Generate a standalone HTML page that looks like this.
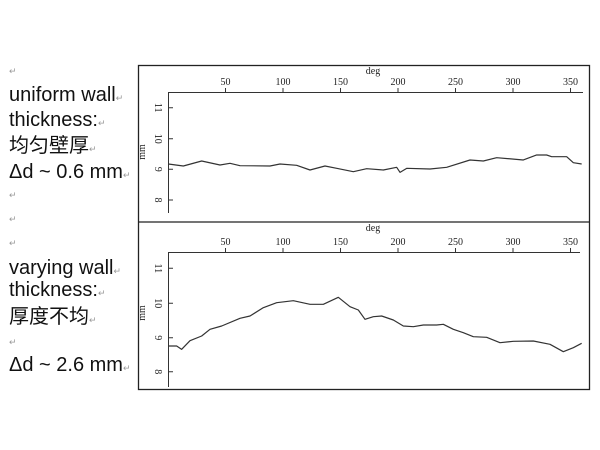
<!DOCTYPE html>
<html><head><meta charset="utf-8"><style>
body{margin:0;width:600px;height:450px;background:#fff;overflow:hidden;position:relative;font-family:"Liberation Sans","Noto Sans CJK SC",sans-serif}
.t{position:absolute;left:9px;font-size:20px;color:#111;line-height:22px;white-space:nowrap}
.r{position:absolute;left:9px;font-size:9px;color:#999}
.ra{font-size:9px;color:#999}
</style></head><body>
<div class="r" style="top:66px">↵</div>
<div class="t" style="top:84px">uniform wall<span class="ra">↵</span></div>
<div class="t" style="top:109px">thickness:<span class="ra">↵</span></div>
<div class="t" style="top:135px">均匀壁厚<span class="ra">↵</span></div>
<div class="t" style="top:161px">Δd ~ 0.6 mm<span class="ra">↵</span></div>
<div class="r" style="top:190px">↵</div>
<div class="r" style="top:214px">↵</div>
<div class="r" style="top:238px">↵</div>
<div class="t" style="top:257px">varying wall<span class="ra">↵</span></div>
<div class="t" style="top:279px">thickness:<span class="ra">↵</span></div>
<div class="t" style="top:306px">厚度不均<span class="ra">↵</span></div>
<div class="r" style="top:337px">↵</div>
<div class="t" style="top:354px">Δd ~ 2.6 mm<span class="ra">↵</span></div>
<svg width="600" height="450" style="position:absolute;left:0;top:0" font-family="Liberation Serif,serif" font-size="10" fill="#222">
<rect x="138.5" y="65.5" width="451" height="324" fill="none" stroke="#222" stroke-width="1.3"/>
<line x1="138" y1="222" x2="590" y2="222" stroke="#222" stroke-width="1.3"/>
<g stroke="#333" stroke-width="1">
<line x1="168" y1="92.5" x2="583" y2="92.5"/><line x1="168.5" y1="92" x2="168.5" y2="213"/>
<line x1="168" y1="252.5" x2="580" y2="252.5"/><line x1="168.5" y1="252" x2="168.5" y2="387"/>
<path d="M225.5 92v-4M283 92v-4M340.5 92v-4M398 92v-4M455.5 92v-4M513 92v-4M570.5 92v-4
M225.5 252v-4M283 252v-4M340.5 252v-4M398 252v-4M455.5 252v-4M513 252v-4M570.5 252v-4
M168 107.7h5M168 138.7h5M168 169.3h5M168 200h5M168 268.3h5M168 303.3h5M168 337.7h5M168 371.7h5"/>
</g>
<g text-anchor="middle">
<text x="373" y="74">deg</text><text x="373" y="231">deg</text>
<text x="225.5" y="85">50</text><text x="283" y="85">100</text><text x="340.5" y="85">150</text><text x="398" y="85">200</text><text x="455.5" y="85">250</text><text x="513" y="85">300</text><text x="570.5" y="85">350</text>
<text x="225.5" y="245">50</text><text x="283" y="245">100</text><text x="340.5" y="245">150</text><text x="398" y="245">200</text><text x="455.5" y="245">250</text><text x="513" y="245">300</text><text x="570.5" y="245">350</text>
<text transform="translate(155,107.7) rotate(90)">11</text><text transform="translate(155,138.7) rotate(90)">10</text><text transform="translate(155,169.3) rotate(90)">9</text><text transform="translate(155,200) rotate(90)">8</text>
<text transform="translate(155,268.3) rotate(90)">11</text><text transform="translate(155,303.3) rotate(90)">10</text><text transform="translate(155,337.7) rotate(90)">9</text><text transform="translate(155,371.7) rotate(90)">8</text>
<text transform="translate(145,152) rotate(-90)">mm</text><text transform="translate(145,313) rotate(-90)">mm</text>
</g>
<g transform="translate(130,60) scale(0.33333)" fill="none" stroke="#333" stroke-width="3.6" stroke-linejoin="round">
<polyline points="115,312 160,318 215,303 270,315 300,310 330,317 420,318 450,312 500,316 540,330 585,318 620,325 670,335 710,326 760,330 800,322 810,337 830,325 900,327 950,322 1020,300 1060,303 1100,293 1180,300 1220,285 1250,285 1265,290 1310,290 1330,308 1355,312"/>
<polyline transform="translate(0,480)" points="115,378 140,378 155,388 180,362 215,348 240,328 275,318 330,295 360,288 400,263 440,248 490,242 540,253 580,253 625,232 660,260 685,270 705,298 730,290 755,288 790,300 820,318 850,320 880,315 920,315 940,313 970,328 1000,338 1030,350 1070,352 1110,368 1150,364 1210,363 1260,373 1300,395 1330,383 1355,370"/>
</g>
</svg>
</body></html>
